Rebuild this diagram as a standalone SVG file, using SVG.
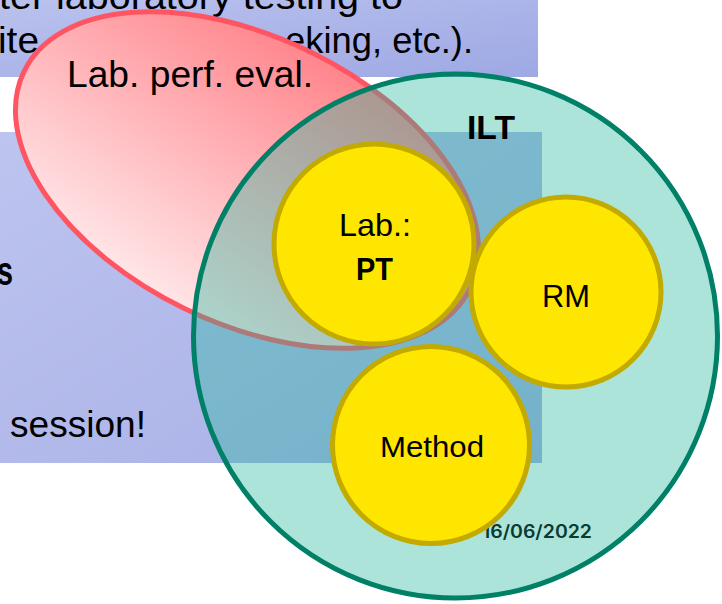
<svg xmlns="http://www.w3.org/2000/svg" width="722" height="604" viewBox="0 0 722 604">
  <defs>
    <linearGradient id="gRect1" x1="0" y1="0" x2="1" y2="1">
      <stop offset="0" stop-color="#bac2ee"/>
      <stop offset="1" stop-color="#9ea8e4"/>
    </linearGradient>
    <linearGradient id="gRect2" x1="0" y1="0" x2="1" y2="1">
      <stop offset="0" stop-color="#bdc4ef"/>
      <stop offset="1" stop-color="#a7afe6"/>
    </linearGradient>
    <linearGradient id="gPink" gradientUnits="userSpaceOnUse" x1="20" y1="-150" x2="-20" y2="145">
      <stop offset="0" stop-color="#ff838a"/>
      <stop offset="1" stop-color="#ffe6e8"/>
    </linearGradient>
    <style>
      .txt { font-family: "Liberation Sans", Arial, sans-serif; fill: #000; }
      .b { font-weight: bold; }
      .yc { fill: #ffe600; stroke: #c2aa00; stroke-width: 5; }
    </style>
  </defs>

  <g id="background">
    <rect x="0" y="0" width="538" height="77" fill="url(#gRect1)"/>
    <rect x="0" y="132" width="542" height="331" fill="url(#gRect2)"/>
    <text class="txt" x="-1" y="9" font-size="36" textLength="404" lengthAdjust="spacingAndGlyphs">ter laboratory testing to</text>
    <text class="txt" x="-2" y="53" font-size="36" textLength="41" lengthAdjust="spacingAndGlyphs">ite</text>
    <text class="txt" x="285" y="53" font-size="36" textLength="188" lengthAdjust="spacingAndGlyphs">eking, etc.).</text>
    <text class="txt b" x="-3" y="285" font-size="40" textLength="16" lengthAdjust="spacingAndGlyphs">s</text>
    <text class="txt" x="10" y="437" font-size="36" textLength="136" lengthAdjust="spacingAndGlyphs">session!</text>
  </g>

  <g id="connectors"/>

  <g id="lab-perf-eval">
    <g transform="translate(247 180) rotate(26)">
      <ellipse cx="0" cy="0" rx="248" ry="143" fill="url(#gPink)" stroke="#ff5562" stroke-width="5"/>
    </g>
    <text class="txt" x="67" y="87" font-size="36" textLength="246" lengthAdjust="spacingAndGlyphs">Lab. perf. eval.</text>
  </g>

  <g id="ilt">
    <circle cx="455.5" cy="336" r="262" fill="rgb(35,184,157)" fill-opacity="0.375" stroke="#008066" stroke-width="5"/>
    <text class="txt b" x="467" y="139" font-size="33" textLength="48" lengthAdjust="spacingAndGlyphs">ILT</text>
    <text x="482" y="538" font-family="Inter, 'Liberation Sans', sans-serif" font-weight="600" font-size="18" fill="#0b3b33" textLength="110" lengthAdjust="spacingAndGlyphs">16/06/2022</text>
  </g>

  <g id="pt">
    <circle class="yc" cx="374" cy="244" r="100"/>
    <text class="txt" x="339" y="236" font-size="32" textLength="72" lengthAdjust="spacingAndGlyphs">Lab.:</text>
    <text class="txt b" x="356" y="280" font-size="31" textLength="37" lengthAdjust="spacingAndGlyphs">PT</text>
  </g>

  <g id="rm">
    <circle class="yc" cx="566" cy="292" r="95"/>
    <text class="txt" x="542" y="307" font-size="31" textLength="48" lengthAdjust="spacingAndGlyphs">RM</text>
  </g>

  <g id="method">
    <circle class="yc" cx="431" cy="445" r="98.5"/>
    <text class="txt" x="380" y="457" font-size="29" textLength="104" lengthAdjust="spacingAndGlyphs">Method</text>
  </g>
</svg>
